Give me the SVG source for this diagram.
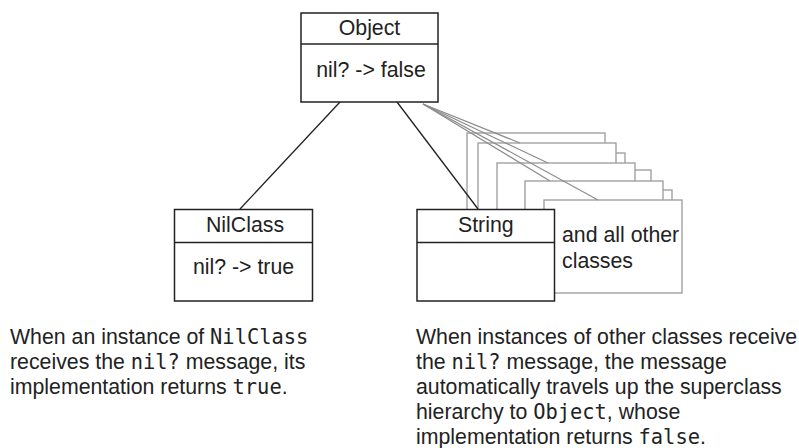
<svg xmlns="http://www.w3.org/2000/svg" width="799" height="448" viewBox="0 0 799 448">
<style>
.bg{fill:#fff}
.box{fill:#fff;stroke:#222;stroke-width:1.5}
.div{stroke:#222;stroke-width:1.5}
.gbox{fill:#fff;stroke:#9a9a9a;stroke-width:1.3}
.link{stroke:#222;stroke-width:1.3;fill:none}
.glink{stroke:#8c8c8c;stroke-width:1.2;fill:none}
.t{font-family:"Liberation Sans",Arial,Helvetica,sans-serif;font-size:21.3px;fill:#222}
.c{text-anchor:middle}
.m{font-family:"DejaVu Sans Mono","Liberation Mono",monospace;font-size:20.4px}
</style>
<rect class="bg" x="0" y="0" width="799" height="448"/>
<g id="others">
<rect class="gbox" x="467" y="133" width="138" height="93"/>
<rect class="gbox" x="487" y="153" width="138" height="93"/>
<rect class="gbox" x="478" y="143" width="138" height="93"/>
<rect class="gbox" x="513" y="170" width="138" height="93"/>
<rect class="gbox" x="497" y="163" width="138" height="93"/>
<rect class="gbox" x="534" y="190" width="138" height="93"/>
<rect class="gbox" x="525" y="181" width="138" height="93"/>
<rect class="gbox" x="544" y="200" width="138" height="93"/>
<text class="t" x="562" y="242">and all other</text>
<text class="t" x="562" y="268">classes</text>
</g>
<g id="connectors">
<line class="link" x1="340" y1="102" x2="240" y2="209"/>
<line class="link" x1="397" y1="102" x2="478" y2="209"/>
<line class="glink" x1="423" y1="104" x2="520" y2="143"/>
<line class="glink" x1="423" y1="104" x2="548" y2="163"/>
<line class="glink" x1="423" y1="104" x2="550" y2="181"/>
<line class="glink" x1="423" y1="104" x2="598" y2="200"/>
</g>
<g id="object">
<rect class="box" x="301" y="13" width="137" height="89"/>
<line class="div" x1="301" y1="44" x2="438" y2="44"/>
<text class="t c" x="369.5" y="35">Object</text>
<text class="t c" x="371" y="77">nil? -&gt; false</text>
</g>
<g id="nilclass">
<rect class="box" x="174.5" y="209.5" width="138" height="91.5"/>
<line class="div" x1="174.5" y1="242.5" x2="312.5" y2="242.5"/>
<text class="t c" x="245" y="232">NilClass</text>
<text class="t c" x="243.5" y="274">nil? -&gt; true</text>
</g>
<g id="string">
<rect class="box" x="417" y="209.5" width="137.5" height="91.5"/>
<line class="div" x1="417" y1="242.5" x2="554.5" y2="242.5"/>
<text class="t c" x="485.8" y="232">String</text>
</g>
<g id="note-left">
<text class="t" x="10" y="344">When an instance of <tspan class="m">NilClass</tspan></text>
<text class="t" x="10" y="369">receives the <tspan class="m">nil?</tspan> message, its</text>
<text class="t" x="10" y="394">implementation returns <tspan class="m">true</tspan>.</text>
</g>
<g id="note-right">
<text class="t" x="416" y="344">When instances of other classes receive</text>
<text class="t" x="416" y="369">the <tspan class="m">nil?</tspan> message, the message</text>
<text class="t" x="416" y="394">automatically travels up the superclass</text>
<text class="t" x="416" y="419">hierarchy to <tspan class="m">Object</tspan>, whose</text>
<text class="t" x="416" y="444">implementation returns <tspan class="m">false</tspan>.</text>
</g>
</svg>
